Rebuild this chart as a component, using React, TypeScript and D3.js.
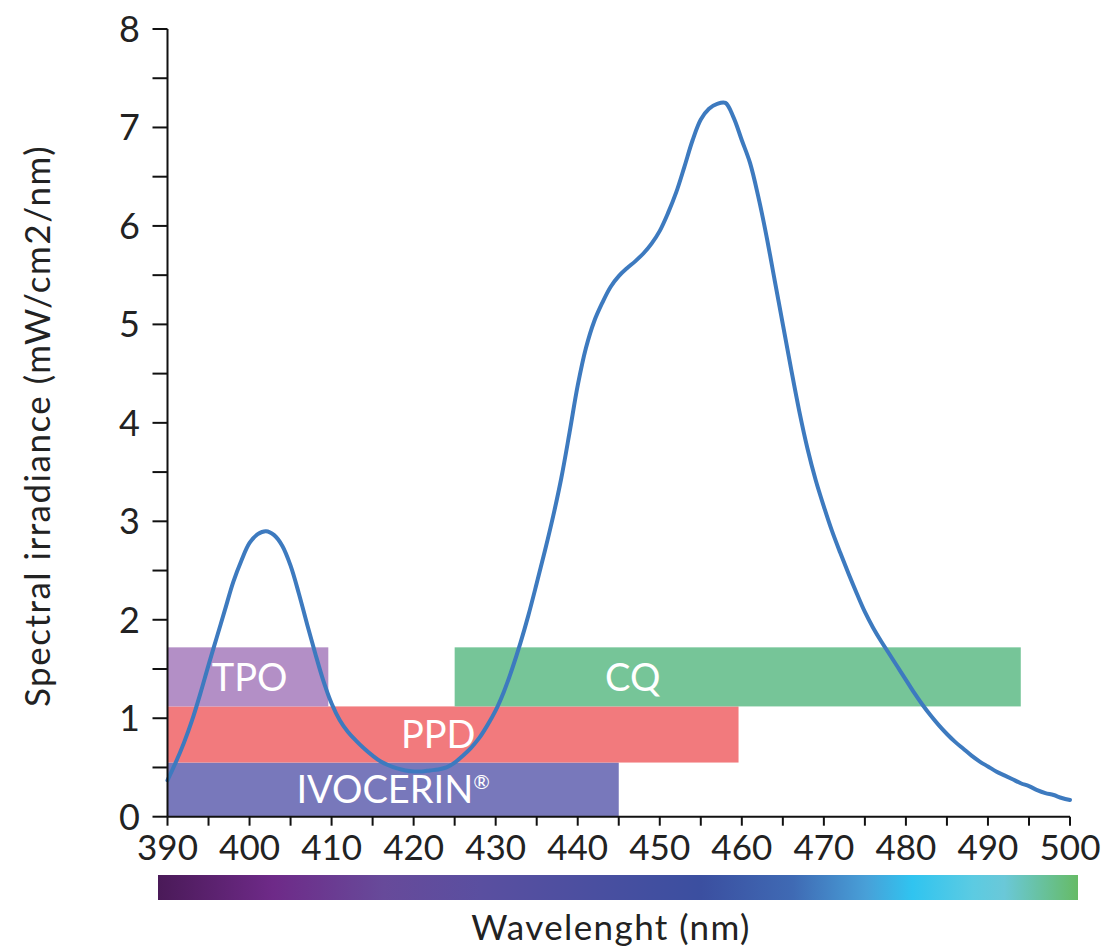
import React from 'react';
import * as d3 from 'd3';

const wavelengths = [
  390, 391, 392, 393, 394, 395, 396, 397, 398, 399,
  400, 401, 402, 403, 404, 405, 406, 407, 408, 409,
  410, 411, 412, 413, 414, 415, 416, 417, 418, 419,
  420, 421, 422, 423, 424, 425, 426, 427, 428, 429,
  430, 431, 432, 433, 434, 435, 436, 437, 438, 439,
  440, 441, 442, 443, 444, 445, 446, 447, 448, 449,
  450, 451, 452, 453, 454, 455, 456, 457, 458, 459,
  460, 461, 462, 463, 464, 465, 466, 467, 468, 469,
  470, 471, 472, 473, 474, 475, 476, 477, 478, 479,
  480, 481, 482, 483, 484, 485, 486, 487, 488, 489,
  490, 491, 492, 493, 494, 495, 496, 497, 498, 499, 500,
];

const irradiance = [
  0.37, 0.55, 0.75, 0.98, 1.25, 1.54, 1.82, 2.1, 2.38, 2.6,
  2.78, 2.87, 2.9, 2.86, 2.75, 2.55, 2.27, 1.96, 1.66, 1.38,
  1.15, 0.98, 0.86, 0.77, 0.69, 0.62, 0.56, 0.52, 0.49, 0.47,
  0.46, 0.46, 0.47, 0.48, 0.5, 0.55, 0.62, 0.7, 0.8, 0.93,
  1.08, 1.27, 1.5, 1.76, 2.05, 2.37, 2.7, 3.05, 3.44, 3.9,
  4.38, 4.76, 5.03, 5.22, 5.38, 5.49, 5.57, 5.64, 5.72, 5.82,
  5.95, 6.13, 6.34, 6.6, 6.87, 7.08, 7.19, 7.24, 7.25, 7.1,
  6.87, 6.64, 6.3, 5.9, 5.45, 5.0, 4.55, 4.12, 3.74, 3.42,
  3.15, 2.9, 2.68, 2.47, 2.27, 2.08, 1.92, 1.78, 1.65, 1.52,
  1.39, 1.26, 1.14, 1.03, 0.93, 0.84, 0.76, 0.69, 0.62, 0.56,
  0.51, 0.46, 0.42, 0.38, 0.34, 0.31, 0.27, 0.24, 0.22, 0.19, 0.17,
];

// photoinitiator absorption bands
const bandNames = ['IVOCERIN', 'PPD', 'TPO', 'CQ'];
const bandStart = [390, 390, 390, 425];
const bandEnd = [445, 459.6, 409.6, 494];
const bandLow = [0, 0.55, 1.12, 1.12];
const bandHigh = [0.55, 1.12, 1.72, 1.72];
const bandLabelAt = [417.5, 423, 400, 446.7];
const bandColors = ['#7878bb', '#f27a7d', '#b38fc6', '#76c598'];

const xMajorTicks = d3.range(390, 501, 10);
const xMinorTicks = d3.range(395, 500, 10);
const yMajorTicks = d3.range(0, 9, 1);
const yMinorTicks = d3.range(0.5, 8, 1);

const spectrumStops = [
  [0, '#4a1a58'],
  [0.125, '#6e2a88'],
  [0.245, '#674a9a'],
  [0.35, '#5a4fa0'],
  [0.59, '#3b4fa0'],
  [0.69, '#3f6ab4'],
  [0.77, '#48a0d8'],
  [0.82, '#30c4f0'],
  [0.886, '#5ccbe2'],
  [0.92, '#6ac8d8'],
  [1, '#66bb66'],
];

const font = 'Lato, "Open Sans", sans-serif';

export default function App() {
  const x = d3.scaleLinear().domain([390, 500]).range([167.5, 1070]);
  const y = d3.scaleLinear().domain([0, 8]).range([816.7, 29]);

  const points = wavelengths.map((w, i) => [w, irradiance[i]] as [number, number]);
  const line = d3.line<[number, number]>()
    .x(d => x(d[0]))
    .y(d => y(d[1]))
    .curve(d3.curveCatmullRom);

  const labelSize = 38;

  return (
    <svg width={1109} height={950} style={{ position: 'absolute', left: 0, top: 0, background: '#fff' }}>
      <defs>
        <linearGradient id="spectrum" x1="0" x2="1" y1="0" y2="0">
          {spectrumStops.map(([o, c]) => (
            <stop key={String(o)} offset={o as number} stopColor={c as string} />
          ))}
        </linearGradient>
      </defs>

      {bandNames.map((name, i) => (
        <rect key={name}
          x={x(bandStart[i])}
          y={y(bandHigh[i])}
          width={x(bandEnd[i]) - x(bandStart[i])}
          height={y(bandLow[i]) - y(bandHigh[i])}
          fill={bandColors[i]} />
      ))}

      <path d={line(points) || ''} fill="none" stroke="#3d7abf" strokeWidth={4} strokeLinejoin="round" strokeLinecap="round" />

      {bandNames.map((name, i) => (
        <text key={name + '-label'}
          x={x(bandLabelAt[i])}
          y={(y(bandLow[i]) + y(bandHigh[i])) / 2 + labelSize * 0.36}
          textAnchor="middle"
          fontFamily={font}
          fontSize={labelSize}
          fill="#fff">
          {name}
          {name === 'IVOCERIN' && <tspan fontSize={20} dy={-14}>®</tspan>}
        </text>
      ))}

      {/* y axis */}
      <line x1={x(390)} x2={x(390)} y1={y(8)} y2={y(0)} stroke="#111" strokeWidth={2} />
      {yMajorTicks.map(t => (
        <g key={'ym' + t}>
          <line x1={x(390) - 15} x2={x(390)} y1={y(t)} y2={y(t)} stroke="#111" strokeWidth={2} />
          <text x={140} y={y(t) + 13} textAnchor="end" fontFamily={font} fontSize={36} fill="#222">{t}</text>
        </g>
      ))}
      {yMinorTicks.map(t => (
        <line key={'yn' + t} x1={x(390) - 15} x2={x(390)} y1={y(t)} y2={y(t)} stroke="#111" strokeWidth={2} />
      ))}

      {/* x axis */}
      <line x1={x(390)} x2={x(500)} y1={y(0)} y2={y(0)} stroke="#111" strokeWidth={2} />
      {xMajorTicks.map(t => (
        <g key={'xm' + t}>
          <line x1={x(t)} x2={x(t)} y1={y(0)} y2={y(0) + 9} stroke="#111" strokeWidth={2} />
          <text x={x(t)} y={860} textAnchor="middle" fontFamily={font} fontSize={35} fill="#222">{t}</text>
        </g>
      ))}
      {xMinorTicks.map(t => (
        <line key={'xn' + t} x1={x(t)} x2={x(t)} y1={y(0)} y2={y(0) + 9} stroke="#111" strokeWidth={2} />
      ))}

      <rect x={158} y={875} width={920} height={25} fill="url(#spectrum)" />

      <text x={611} y={940} textAnchor="middle" fontFamily={font} fontSize={35} letterSpacing={1.4} fill="#222">Wavelenght (nm)</text>
      <text transform="translate(50,426) rotate(-90)" textAnchor="middle" fontFamily={font} fontSize={35} letterSpacing={1.5} fill="#222">
        Spectral irradiance (mW/cm2/nm)
      </text>
    </svg>
  );
}
